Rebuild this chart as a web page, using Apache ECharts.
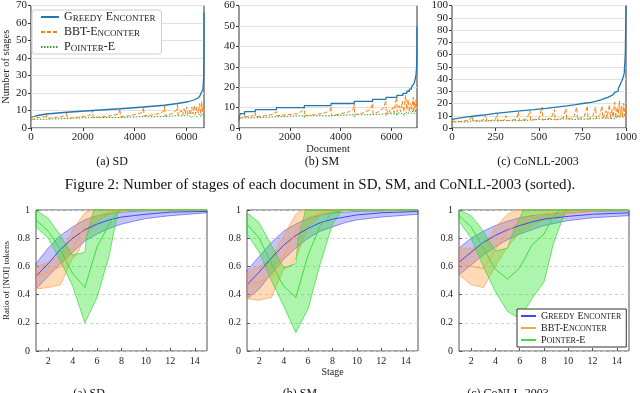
<!DOCTYPE html>
<html>
<head>
<meta charset="utf-8">
<script src="https://cdn.jsdelivr.net/npm/echarts@6/dist/echarts.min.js"></script>
<style>
  html, body { margin: 0; padding: 0; background: #fff; }
  #main { width: 640px; height: 393px; }
</style>
</head>
<body>
<div id="main"></div>
<script>
var FONT = "'Liberation Serif', 'DejaVu Serif', serif";

// ---- top row: number of stages per document (sorted), [document, stages]
var sdGreedy = [[0,6],[40,7],[200,8],[600,9],[1380,10],[2380,11],[3430,12],[4340,13],[5150,14],[5650,15],[6050,16],[6280,17],[6420,18],[6500,19],[6560,20],[6600,21],[6630,22],[6650,23],[6660,30],[6668,45],[6670,66]];
var sdBbt = [[0,5],[100,5],[190,6],[300,6],[590,6.5],[600,8],[620,5.5],[900,6],[1200,6.5],[1370,7.5],[1380,9],[1400,5.5],[1700,6],[2000,6.5],[2300,7.5],[2370,8.5],[2380,10],[2400,6],[2800,6.5],[3100,7],[3380,8],[3420,9],[3430,11],[3450,6.5],[3800,7],[4100,8],[4300,9],[4335,10],[4340,12],[4360,7],[4700,7.5],[5000,8.5],[5130,10],[5145,11],[5150,13],[5170,7],[5400,8],[5600,10],[5645,12],[5650,14],[5670,7.5],[5800,10],[5850,7.5],[5900,11],[5950,8],[6000,12],[6050,8],[6100,10],[6150,7.5],[6200,12],[6250,8],[6300,13],[6350,8],[6400,12],[6450,8.5],[6500,14],[6540,8],[6580,15],[6610,9],[6640,13],[6670,10]];
var sdPointer = [[0,4.5],[150,5],[590,5],[600,4],[610,5.5],[1370,5.5],[1380,4.5],[1400,6],[2370,6],[2380,5],[2400,6],[3420,6],[3430,5],[3450,6.5],[4330,6.5],[4340,5.5],[4360,6.5],[5140,6.5],[5150,5.5],[5170,7],[5640,7],[5650,6],[5670,7],[5900,7],[5950,6],[6000,7.5],[6100,7],[6200,6],[6300,7.5],[6400,6.5],[6500,8],[6550,6.5],[6600,8],[6640,7],[6670,8]];

var smGreedy = [[0,4],[20,6],[60,7],[220,8],[640,9],[1470,10],[2570,11],[3620,12],[4530,13],[5250,14],[5780,15],[6210,16],[6450,17],[6600,18],[6700,19],[6780,20],[6840,21],[6890,22],[6930,24],[6960,26],[6985,30],[6995,38],[7000,50]];
var smBbt = [[0,4],[60,5],[200,5.5],[220,7],[240,5.5],[600,6],[640,7.5],[660,5.5],[1000,6],[1300,6.5],[1470,8],[1490,6],[1900,6.5],[2300,7],[2500,8.5],[2570,10.5],[2590,6],[3000,6.5],[3400,7.5],[3580,8.5],[3620,10.5],[3640,6],[4000,7],[4350,8],[4500,9.5],[4530,12],[4550,6.5],[4900,7.5],[5150,9],[5230,11],[5250,13.5],[5270,7],[5500,8],[5700,10],[5770,13.5],[5790,7],[5900,9],[5950,7.5],[6050,10],[6100,7.5],[6150,12],[6200,15],[6220,8],[6300,11],[6350,8],[6420,13],[6480,8],[6550,16],[6600,9],[6650,14],[6700,8],[6750,12],[6800,9],[6850,15],[6880,9],[6910,13],[6940,8],[6970,14],[7000,11]];
var smPointer = [[0,3],[30,5],[600,5],[640,4.5],[660,5.5],[1460,5.5],[1470,5],[1490,6],[2560,6],[2570,5],[2590,6],[3610,6],[3620,5.5],[3640,6.5],[4520,6.5],[4530,5.5],[4550,6.5],[5240,6.5],[5250,6],[5270,7],[5770,7],[5780,6],[5800,7],[6200,7],[6210,6],[6230,7.5],[6450,7],[6500,6],[6550,8],[6650,7],[6700,8.5],[6800,7],[6850,9],[6900,7],[6950,8.5],[7000,8]];

var cnGreedy = [[0,7],[8,8],[40,9],[90,10],[140,11],[200,12],[250,13],[320,14],[390,15],[470,16],[540,17],[600,18],[660,19],[710,20],[750,21],[800,22],[830,23],[855,24],[875,25],[895,26],[910,27],[925,28],[935,29],[945,30],[955,32],[965,35],[975,38],[985,42],[990,45],[996,60],[1000,100]];
var cnBbt = [[0,6],[20,5],[60,5.5],[100,6.5],[115,10],[120,5.5],[180,6.5],[194,11],[200,5.5],[250,7],[260,12],[265,5.5],[300,6.5],[310,10],[315,6],[370,7],[382,13],[388,6],[430,7.5],[448,14],[452,6],[500,8],[518,17],[522,6.5],[570,8],[589,15],[593,6.5],[640,8.5],[655,16],[660,7],[700,9],[717,17],[722,7],[760,9.5],[778,18],[782,7],[810,10],[825,17],[830,7.5],[850,11],[862,18],[868,8],[885,14],[890,8],[905,19],[910,8],[920,15],[925,9],[935,21],[940,8],[950,17],[955,9],[962,22],[968,10],[975,18],[980,9],[987,20],[992,10],[996,17],[1000,12]];
var cnPointer = [[0,5],[100,5],[115,6],[120,4.5],[150,5.5],[250,6],[260,5],[300,6],[400,6],[450,6.5],[455,5.5],[500,7],[600,7],[650,7.5],[660,6.5],[700,7],[800,7.5],[850,8],[860,7],[900,8],[930,7.5],[950,9],[960,8],[980,9],[990,8],[1000,9]];

// ---- bottom row: ratio of [NOI] tokens per stage, [stage, ratio]
var sdGreedyMean = [[1,0.53],[2,0.62],[3,0.72],[4,0.8],[5,0.86],[6,0.9],[7,0.93],[8,0.95],[9,0.96],[10,0.97],[12,0.985],[15,0.99]];
var sdGreedyHi = [[1,0.62],[2,0.73],[3,0.82],[4,0.88],[5,0.93],[6,0.96],[7,0.975],[8,0.985],[10,0.995],[15,1]];
var sdGreedyLo = [[1,0.44],[2,0.53],[3,0.62],[4,0.7],[5,0.78],[6,0.83],[7,0.87],[8,0.9],[9,0.92],[10,0.94],[12,0.96],[15,0.98]];
var sdBbtMean = [[1,0.53],[2,0.56],[3,0.6],[4,0.73],[5,0.89],[6,0.96],[7,0.985],[8,0.995],[10,1],[15,1]];
var sdBbtHi = [[1,0.6],[2,0.63],[3,0.68],[4,0.86],[5,0.98],[5.5,1],[15,1]];
var sdBbtLo = [[1,0.44],[2,0.45],[3,0.47],[4,0.66],[4.3,0.68],[5,0.8],[6,0.92],[7,0.97],[8,0.99],[9,1],[15,1]];
var sdPtrMean = [[1,0.93],[2,0.85],[3,0.72],[4,0.55],[5,0.45],[6,0.74],[7,0.9],[7.7,0.99],[8,1],[15,1]];
var sdPtrHi = [[1,1],[2,0.94],[3,0.82],[4,0.68],[5,0.7],[5.15,0.82],[5.75,1],[15,1]];
var sdPtrLo = [[1,0.88],[2,0.8],[3,0.64],[4,0.46],[5,0.2],[6,0.38],[7,0.68],[7.5,0.9],[7.8,1],[15,1]];

var smGreedyMean = [[1,0.47],[2,0.56],[3,0.66],[4,0.75],[5,0.82],[6,0.87],[7,0.91],[8,0.935],[9,0.95],[10,0.965],[12,0.98],[15,0.99]];
var smGreedyHi = [[1,0.57],[2,0.67],[3,0.77],[4,0.85],[5,0.9],[6,0.94],[7,0.965],[8,0.98],[10,0.99],[15,1]];
var smGreedyLo = [[1,0.37],[2,0.44],[3,0.55],[4,0.65],[5,0.73],[6,0.8],[7,0.85],[8,0.88],[9,0.91],[10,0.93],[12,0.95],[15,0.97]];
var smBbtMean = [[1,0.47],[2,0.49],[3,0.53],[4,0.67],[5,0.85],[6,0.95],[7,0.98],[8,0.99],[10,1],[15,1]];
var smBbtHi = [[1,0.56],[2,0.6],[3,0.66],[4,0.82],[5,0.97],[5.5,1],[15,1]];
var smBbtLo = [[1,0.37],[2,0.36],[3,0.38],[4,0.58],[4.7,0.61],[5,0.66],[6,0.88],[7,0.96],[8,0.99],[9,1],[15,1]];
var smPtrMean = [[1,0.9],[2,0.8],[3,0.62],[4,0.46],[5,0.38],[6,0.68],[7,0.89],[8,0.98],[9,1],[15,1]];
var smPtrHi = [[1,0.98],[2,0.91],[3,0.75],[4,0.59],[5,0.62],[5.2,0.8],[5.8,1],[15,1]];
var smPtrLo = [[1,0.83],[2,0.7],[3,0.5],[4,0.32],[5,0.13],[6,0.3],[7,0.62],[8,0.9],[8.8,1],[15,1]];

var cnGreedyMean = [[1,0.63],[2,0.7],[3,0.77],[4,0.82],[5,0.86],[6,0.89],[7,0.915],[8,0.935],[10,0.955],[12,0.97],[15,0.98]];
var cnGreedyHi = [[1,0.73],[2,0.8],[3,0.85],[4,0.89],[5,0.92],[6,0.945],[7,0.96],[8,0.97],[10,0.985],[12,0.99],[15,0.995]];
var cnGreedyLo = [[1,0.54],[2,0.61],[3,0.68],[4,0.74],[5,0.79],[6,0.83],[7,0.86],[8,0.89],[10,0.925],[12,0.945],[15,0.96]];
var cnBbtMean = [[1,0.63],[2,0.6],[3,0.585],[4,0.72],[5,0.85],[6,0.92],[7,0.95],[8,0.97],[10,0.99],[12,1],[15,1]];
var cnBbtHi = [[1,0.73],[2,0.73],[3,0.74],[4,0.88],[5,0.97],[5.8,1],[15,1]];
var cnBbtLo = [[1,0.54],[2,0.47],[3,0.45],[4,0.6],[5,0.74],[6,0.84],[7,0.89],[8,0.93],[10,0.97],[12,0.99],[15,1]];
var cnPtrMean = [[1,0.96],[2,0.88],[3,0.73],[4,0.58],[5,0.51],[6,0.59],[7,0.75],[8,0.83],[8.75,0.95],[9.3,1],[15,1]];
var cnPtrHi = [[1,1],[2,0.96],[3,0.85],[4,0.71],[5,0.73],[5.5,0.85],[6.3,1],[15,1]];
var cnPtrLo = [[1,0.92],[2,0.8],[3,0.6],[4,0.42],[5,0.28],[6,0.23],[7,0.37],[8,0.49],[8.8,0.77],[9.8,1],[15,1]];

var methods = ['Greedy Enconter', 'BBT-Enconter', 'Pointer-E'];
var stageTicks = [2, 4, 6, 8, 10, 12, 14];
var ratioTicks = [0, 0.2, 0.4, 0.6, 0.8, 1];

var topPanels = [
  { box: { left: 26, top: 3, width: 178, height: 125 }, xMax: 6670, xTicks: [0, 2000, 4000, 6000], yMax: 70, lines: [sdGreedy, sdBbt, sdPointer] },
  { box: { left: 239, top: 4, width: 178, height: 124 }, xMax: 7000, xTicks: [0, 2000, 4000, 6000], yMax: 60, lines: [smGreedy, smBbt, smPointer] },
  { box: { left: 452, top: 4, width: 177, height: 124 }, xMax: 1000, xTicks: [0, 250, 500, 750, 1000], yMax: 100, lines: [cnGreedy, cnBbt, cnPointer] }
];
var bottomPanels = [
  { box: { left: 36, top: 210, width: 171, height: 141 }, mean: [sdGreedyMean, sdBbtMean, sdPtrMean], hi: [sdGreedyHi, sdBbtHi, sdPtrHi], lo: [sdGreedyLo, sdBbtLo, sdPtrLo] },
  { box: { left: 247, top: 210, width: 171, height: 141 }, mean: [smGreedyMean, smBbtMean, smPtrMean], hi: [smGreedyHi, smBbtHi, smPtrHi], lo: [smGreedyLo, smBbtLo, smPtrLo] },
  { box: { left: 459, top: 210, width: 170, height: 141 }, mean: [cnGreedyMean, cnBbtMean, cnPtrMean], hi: [cnGreedyHi, cnBbtHi, cnPtrHi], lo: [cnGreedyLo, cnBbtLo, cnPtrLo] }
];

var topColors = ['#1f77b4', '#ff7f0e', '#2ca02c'];
var topDash = ['solid', [4, 2], [1.5, 1.5]];
var lineColors = ['#4646f5', '#ffa24a', '#3ddd3d'];
var fillColors = ['rgba(60,60,245,0.30)', 'rgba(255,150,50,0.35)', 'rgba(40,225,40,0.38)'];
var edgeColors = ['rgba(70,70,245,0.75)', 'rgba(255,160,70,0.85)', 'rgba(50,215,50,0.85)'];

// "Greedy Enconter" -> small caps rich text
function smallCaps(s) {
  return s.split(' ').map(function (w) {
    return w.replace(/([a-z]+)|([^a-z]+)/g, function (m, lo, up) {
      return lo ? '{s|' + lo.toUpperCase() + '}' : '{b|' + up + '}';
    });
  }).join('{b| }');
}

var chart = echarts.init(document.getElementById('main'));

var grids = [], xAxes = [], yAxes = [], series = [];

topPanels.forEach(function (p, i) {
  grids.push(Object.assign({ show: true, borderColor: '#333', borderWidth: 1, backgroundColor: 'transparent' }, p.box));
  xAxes.push({
    type: 'value', gridIndex: i, min: 0, max: p.xMax,
    axisLine: { show: false },
    axisTick: { show: true, length: 3, customValues: p.xTicks, lineStyle: { color: '#333' } },
    axisLabel: { customValues: p.xTicks, color: '#222', fontFamily: FONT, fontSize: 11, margin: 4,
      formatter: function (v) { return String(v); } },
    splitLine: { show: false },
    name: i === 1 ? 'Document' : '', nameLocation: 'middle', nameGap: 15,
    nameTextStyle: { fontFamily: FONT, fontSize: 10.5, color: '#222' }
  });
  yAxes.push({
    type: 'value', gridIndex: i, min: 0, max: p.yMax, interval: 10,
    axisLine: { show: false },
    axisTick: { show: true, length: 3, lineStyle: { color: '#333' } },
    axisLabel: { color: '#222', fontFamily: FONT, fontSize: 11, margin: 4 },
    splitLine: { show: true, lineStyle: { color: '#e2e2e2', width: 1 } },
    name: i === 0 ? 'Number of stages' : '', nameLocation: 'middle', nameGap: 17,
    nameTextStyle: { fontFamily: FONT, fontSize: 10.5, color: '#222' }
  });
  p.lines.forEach(function (d, k) {
    series.push({
      type: 'line', name: methods[k], xAxisIndex: i, yAxisIndex: i, data: d,
      step: k === 0 ? 'end' : false, symbol: 'none', z: 3 - k + 2,
      itemStyle: { color: topColors[k] },
      lineStyle: { color: topColors[k], width: k === 0 ? 1.3 : 1, type: topDash[k] }
    });
  });
});

function bandSeries(idx, hi, lo, k) {
  return {
    type: 'custom', xAxisIndex: idx, yAxisIndex: idx, data: hi, silent: true, z: 2,
    renderItem: function (params, api) {
      if (params.dataIndex !== 0) return null;
      var pts = hi.map(function (d) { return api.coord(d); })
        .concat(lo.slice().reverse().map(function (d) { return api.coord(d); }));
      return {
        type: 'polygon', shape: { points: pts },
        style: { fill: fillColors[k], stroke: edgeColors[k], lineWidth: 0.8 }
      };
    }
  };
}

bottomPanels.forEach(function (p, j) {
  var i = j + 3;
  grids.push(Object.assign({ show: true, borderColor: '#555', borderWidth: 1, backgroundColor: 'transparent' }, p.box));
  xAxes.push({
    type: 'value', gridIndex: i, min: 1, max: 15,
    axisLine: { show: false },
    axisTick: { show: true, inside: true, length: 3, customValues: stageTicks, lineStyle: { color: '#555' } },
    axisLabel: { customValues: stageTicks, color: '#222', fontFamily: FONT, fontSize: 10, margin: 5 },
    splitLine: { show: false },
    name: j === 1 ? 'Stage' : '', nameLocation: 'middle', nameGap: 15,
    nameTextStyle: { fontFamily: FONT, fontSize: 10, color: '#222' }
  });
  yAxes.push({
    type: 'value', gridIndex: i, min: 0, max: 1,
    axisLine: { show: false },
    axisTick: { show: true, inside: true, length: 3, customValues: ratioTicks, lineStyle: { color: '#555' } },
    axisLabel: { customValues: ratioTicks, color: '#222', fontFamily: FONT, fontSize: 10, margin: 6,
      formatter: function (v) { return String(Math.round(v * 10) / 10); } },
    splitLine: { show: true, lineStyle: { color: '#cfcfcf', type: [3, 3], width: 1 } },
    name: j === 0 ? 'Ratio of [NOI] tokens' : '', nameLocation: 'middle', nameGap: 25,
    nameTextStyle: { fontFamily: FONT, fontSize: 9, color: '#222' }
  });
  for (var k = 0; k < 3; k++) series.push(bandSeries(i, p.hi[k], p.lo[k], k));
  for (var k2 = 0; k2 < 3; k2++) {
    series.push({
      type: 'line', name: 'r:' + methods[k2], xAxisIndex: i, yAxisIndex: i, data: p.mean[k2],
      symbol: 'none', z: 4, silent: true,
      itemStyle: { color: lineColors[k2] },
      lineStyle: { color: lineColors[k2], width: 1 }
    });
  }
});

function captions(y, xs, labels) {
  return labels.map(function (t, n) {
    return { type: 'text', x: xs[n], y: y, style: { text: t, fontFamily: FONT, fontSize: 12, fill: '#111', textAlign: 'center', textVerticalAlign: 'middle' } };
  });
}

var noMarker = { color: 'transparent', borderColor: 'transparent', borderWidth: 0, opacity: 0 };

var option = {
  animation: false,
  backgroundColor: '#fff',
  grid: grids,
  xAxis: xAxes,
  yAxis: yAxes,
  series: series,
  legend: [
    {
      data: methods, orient: 'vertical', left: 32, top: 10,
      itemWidth: 18, itemHeight: 12, itemGap: 3, padding: [1, 6, 1, 8],
      backgroundColor: '#fff', borderColor: '#cccccc', borderWidth: 1, borderRadius: 3,
      selectedMode: false, itemStyle: noMarker,
      formatter: function (n) { return smallCaps(n); },
      textStyle: {
        color: '#222',
        rich: {
          b: { fontFamily: FONT, fontSize: 12, lineHeight: 12, verticalAlign: 'bottom' },
          s: { fontFamily: FONT, fontSize: 9, lineHeight: 9, verticalAlign: 'bottom' }
        }
      }
    },
    {
      data: methods.map(function (m) { return 'r:' + m; }), orient: 'vertical', left: 517, top: 309,
      itemWidth: 15, itemHeight: 10, itemGap: 2, padding: [2, 5, 2, 3],
      backgroundColor: '#fff', borderColor: '#333', borderWidth: 1, borderRadius: 0,
      selectedMode: false, itemStyle: noMarker,
      formatter: function (n) { return smallCaps(n.slice(2)); },
      textStyle: {
        color: '#222',
        rich: {
          b: { fontFamily: FONT, fontSize: 10, lineHeight: 10, verticalAlign: 'bottom' },
          s: { fontFamily: FONT, fontSize: 8, lineHeight: 8, verticalAlign: 'bottom' }
        }
      }
    }
  ],
  graphic: captions(162, [112, 322, 538], ['(a) SD', '(b) SM', '(c) CoNLL-2003'])
    .concat(captions(394, [89, 300, 508], ['(a) SD', '(b) SM', '(c) CoNLL-2003']))
    .concat([{
      type: 'text', x: 320, y: 185,
      style: { text: 'Figure 2: Number of stages of each document in SD, SM, and CoNLL-2003 (sorted).', fontFamily: FONT, fontSize: 15, fill: '#111', textAlign: 'center', textVerticalAlign: 'middle' }
    }])
};

chart.setOption(option);
</script>
</body>
</html>
